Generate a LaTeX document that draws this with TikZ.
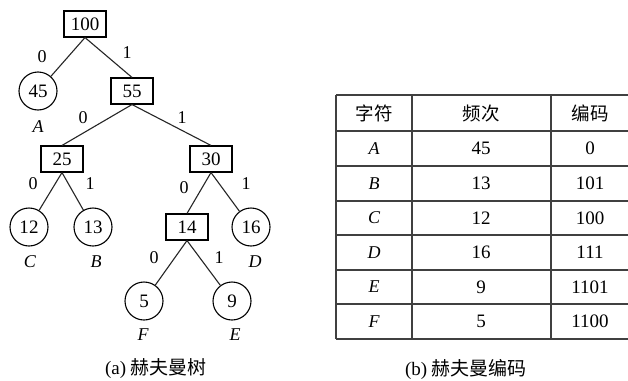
\documentclass[tikz,border=0pt]{standalone}
\usepackage{fontspec}
\setmainfont{Liberation Serif}
\newfontfamily\cjk{Noto Sans CJK SC}
\begin{document}
\begin{tikzpicture}[x=1pt,y=-1pt,
  treeline/.style={line width=1.1pt,black!85},
  boxnode/.style={draw,line width=1.1pt,minimum width=42pt,minimum height=26pt,inner sep=0pt,font=\fontsize{19}{19}\selectfont},
  leafnode/.style={draw,circle,line width=1.1pt,minimum size=38pt,inner sep=0pt,font=\fontsize{19}{19}\selectfont},
  bitlabel/.style={inner sep=0pt,font=\fontsize{18}{18}\selectfont},
  letter/.style={inner sep=0pt,font=\fontsize{18}{18}\selectfont\itshape},
  cell/.style={inner sep=0pt,font=\fontsize{19}{19}\selectfont},
  lcell/.style={inner sep=0pt,font=\fontsize{18}{18}\selectfont\itshape},
  hcell/.style={inner sep=0pt,font=\fontsize{18.5}{18.5}\selectfont\cjk},
  gridline/.style={line width=1.2pt,black!75},
  caption/.style={inner sep=0pt,font=\fontsize{19}{19}\selectfont}
]
\useasboundingbox[fill=white] (0,0) rectangle (628,380);
% tree nodes
\node[boxnode] (n100) at (85,24) {100};
\node[leafnode] (n45) at (38,91) {45};
\node[boxnode] (n55) at (132,91) {55};
\node[boxnode] (n25) at (62,159) {25};
\node[boxnode] (n30) at (211,159) {30};
\node[leafnode] (n12) at (29,227) {12};
\node[leafnode] (n13) at (93,227) {13};
\node[boxnode] (n14) at (187,227) {14};
\node[leafnode] (n16) at (251,227) {16};
\node[leafnode] (n5) at (144,301) {5};
\node[leafnode] (n9) at (232,301) {9};
% edges
\draw[treeline] (n100.south) -- (n45);
\draw[treeline] (n100.south) -- (n55.north);
\draw[treeline] (n55.south) -- (n25.north);
\draw[treeline] (n55.south) -- (n30.north);
\draw[treeline] (n25.south) -- (n12);
\draw[treeline] (n25.south) -- (n13);
\draw[treeline] (n30.south) -- (n14.north);
\draw[treeline] (n30.south) -- (n16);
\draw[treeline] (n14.south) -- (n5);
\draw[treeline] (n14.south) -- (n9);
% edge labels
\node[bitlabel] (b1) at (42,57) {0};
\node[bitlabel] (b2) at (127,53) {1};
\node[bitlabel] (b3) at (83,118) {0};
\node[bitlabel] (b4) at (182,118) {1};
\node[bitlabel] (b5) at (33,184) {0};
\node[bitlabel] (b6) at (90,184) {1};
\node[bitlabel] (b7) at (184,188) {0};
\node[bitlabel] (b8) at (246,184) {1};
\node[bitlabel] (b9) at (154,258) {0};
\node[bitlabel] (b10) at (219,258) {1};
% letters
\node[letter] (lA) at (38,127) {A};
\node[letter] (lC) at (30,262) {C};
\node[letter] (lB) at (96,262) {B};
\node[letter] (lD) at (255,262) {D};
\node[letter] (lF) at (143,335) {F};
\node[letter] (lE) at (235,335) {E};
\node[caption] (capa) at (156,369) {(a) {\cjk 赫夫曼树}};
% table
\foreach \yy in {95,131,166,201,235,270,304,339} {
  \draw[gridline] (336,\yy) -- (628,\yy);
}
\foreach \xx in {336,412,551} {
  \draw[gridline] (\xx,95) -- (\xx,339);
}
\node[hcell] (h1) at (374,113) {字符};
\node[hcell] (h2) at (481,113) {频次};
\node[hcell] (h3) at (590,113) {编码};
\foreach \i/\ch/\fr/\cd/\yy in {1/A/45/0/148.5, 2/B/13/101/183.5, 3/C/12/100/218, 4/D/16/111/252.5, 5/E/9/1101/287, 6/F/5/1100/321.5} {
  \node[lcell] (c\i a) at (374,\yy) {\ch};
  \node[cell] (c\i b) at (481,\yy) {\fr};
  \node[cell] (c\i c) at (590,\yy) {\cd};
}
\node[caption] (capb) at (466,369) {(b) {\cjk 赫夫曼编码}};
\end{tikzpicture}
\end{document}
